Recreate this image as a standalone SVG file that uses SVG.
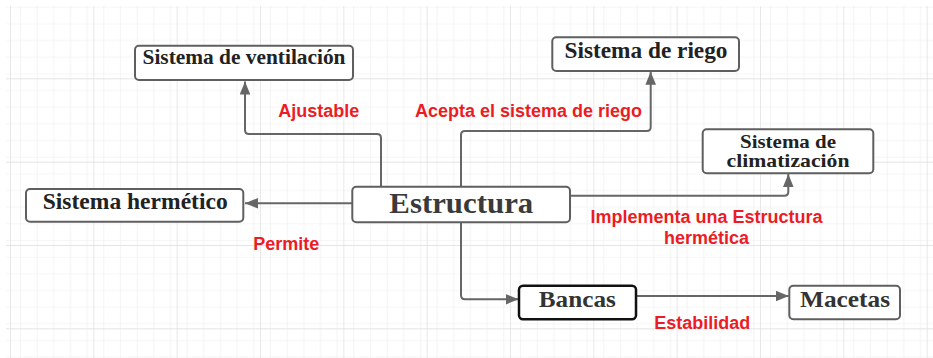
<svg xmlns="http://www.w3.org/2000/svg" width="933" height="358" viewBox="0 0 933 358">
  <defs>
    <pattern id="minor" x="10" y="-5" width="16.667" height="16.667" patternUnits="userSpaceOnUse">
      <path d="M0,0 V16.667 M0,0 H16.667" fill="none" stroke="#ebebeb" stroke-width="1.2"/>
    </pattern>
    <pattern id="major" x="10" y="-5" width="83.333" height="83.333" patternUnits="userSpaceOnUse">
      <rect width="83.333" height="83.333" fill="url(#minor)"/>
      <path d="M0,0 V83.333 M0,0 H83.333" fill="none" stroke="#dcdcdc" stroke-width="1.3"/>
    </pattern>
    <marker id="arr" markerUnits="userSpaceOnUse" markerWidth="14" markerHeight="11" refX="13" refY="5.3" orient="auto">
      <path d="M0,0 L13,5.3 L0,10.6 z" fill="#666"/>
    </marker>
    <style>
      .box { fill: #fff; stroke: #5f5f5f; stroke-width: 2; }
      .nt { font-family: "Liberation Serif", "DejaVu Serif", serif; font-weight: bold; fill: #222; text-anchor: middle; }
      .lbl { font-family: "Liberation Sans", Arial, sans-serif; font-weight: bold; font-size: 18px; fill: #ec1c24; }
      .con { fill: none; stroke: #666; stroke-width: 2; marker-end: url(#arr); }
    </style>
  </defs>
  <rect width="933" height="358" fill="#fff"/>
  <rect x="6" y="6" width="927" height="352" fill="url(#major)"/>

  <g id="connectors">
    <path class="con" d="M381,186.7 V138 Q381,134 377,134 H249 Q245,134 245,130 V81.5"/>
    <path class="con" d="M461,186.7 V135 Q461,131 465,131 H646.7 Q650.7,131 650.7,127 V71.8"/>
    <path class="con" d="M352.3,203.3 H245"/>
    <path class="con" d="M570,195.7 H784.3 Q788.3,195.7 788.3,191.7 V174"/>
    <path class="con" d="M461,222.3 V295.3 Q461,299.3 465,299.3 H518.5"/>
    <path class="con" d="M636,296 H788.8"/>
  </g>

  <g id="labels">
    <text class="lbl" x="278.3" y="117.3">Ajustable</text>
    <text class="lbl" x="415" y="117.3">Acepta el sistema de riego</text>
    <text class="lbl" x="253.3" y="250">Permite</text>
    <text class="lbl" x="706.5" y="223.3" text-anchor="middle">Implementa una Estructura</text>
    <text class="lbl" x="706.5" y="244" text-anchor="middle">hermética</text>
    <text class="lbl" x="654.3" y="329">Estabilidad</text>
  </g>

  <g id="ventilacion">
    <rect class="box" x="135" y="45.7" width="218" height="34.3" rx="4"/>
    <text class="nt" x="244" y="64" font-size="21" textLength="203" lengthAdjust="spacingAndGlyphs">Sistema de ventilación</text>
  </g>
  <g id="riego">
    <rect class="box" x="552.3" y="37.3" width="186.7" height="33.7" rx="4"/>
    <text class="nt" x="646" y="58.3" font-size="22.5" textLength="163" lengthAdjust="spacingAndGlyphs">Sistema de riego</text>
  </g>
  <g id="climatizacion">
    <rect class="box" x="702.7" y="129.3" width="170.6" height="44" rx="4"/>
    <text class="nt" x="788" y="147.7" font-size="19.5" textLength="96" lengthAdjust="spacingAndGlyphs">Sistema de</text>
    <text class="nt" x="788" y="166.7" font-size="19.5" textLength="123" lengthAdjust="spacingAndGlyphs">climatización</text>
  </g>
  <g id="hermetico">
    <rect class="box" x="26" y="189" width="217.3" height="32.7" rx="4"/>
    <text class="nt" x="135.2" y="209.3" font-size="22.5" textLength="185" lengthAdjust="spacingAndGlyphs">Sistema hermético</text>
  </g>
  <g id="estructura">
    <rect class="box" x="352.3" y="186.7" width="217.7" height="35.6" rx="4"/>
    <text class="nt" x="461.3" y="213.3" font-size="30" textLength="144" lengthAdjust="spacingAndGlyphs" style="fill:#3a3a3a">Estructura</text>
  </g>
  <g id="bancas">
    <rect class="box" x="519" y="285.7" width="117" height="33.6" rx="4" style="stroke:#111;stroke-width:2.5"/>
    <text class="nt" x="577.3" y="306.7" font-size="24" textLength="77" lengthAdjust="spacingAndGlyphs" style="fill:#333">Bancas</text>
  </g>
  <g id="macetas">
    <rect class="box" x="789.3" y="285.7" width="110.7" height="33.6" rx="4"/>
    <text class="nt" x="845" y="306.7" font-size="24" textLength="90" lengthAdjust="spacingAndGlyphs" style="fill:#333">Macetas</text>
  </g>
</svg>
